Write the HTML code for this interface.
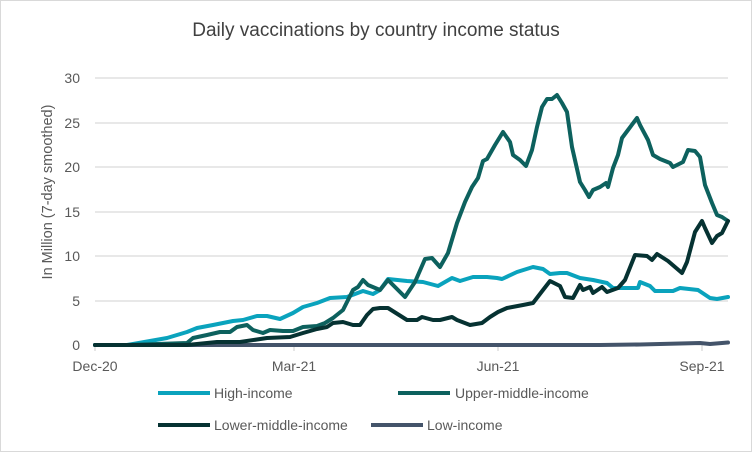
<!DOCTYPE html><html><head><style>body{margin:0;background:#fff}svg{display:block;font-family:"Liberation Sans",sans-serif}</style></head><body>
<svg width="752" height="452" viewBox="0 0 752 452">
<rect x="0.5" y="0.5" width="751" height="451" fill="#fff" stroke="#d9d9d9"/>
<text x="376" y="36" text-anchor="middle" font-size="19" fill="#404040">Daily vaccinations by country income status</text>
<g stroke="#d9d9d9" stroke-width="1.3">
<line x1="95" x2="728" y1="78" y2="78"/><line x1="95" x2="728" y1="123" y2="123"/><line x1="95" x2="728" y1="167" y2="167"/><line x1="95" x2="728" y1="212" y2="212"/><line x1="95" x2="728" y1="256" y2="256"/><line x1="95" x2="728" y1="301" y2="301"/>
<line x1="95" x2="95" y1="345" y2="351"/><line x1="294" x2="294" y1="345" y2="351"/><line x1="498" x2="498" y1="345" y2="351"/><line x1="702" x2="702" y1="345" y2="351"/>
</g>
<g font-size="14" fill="#595959" text-anchor="end">
<text x="80" y="83">30</text><text x="80" y="128">25</text><text x="80" y="172">20</text><text x="80" y="217">15</text><text x="80" y="261">10</text><text x="80" y="306">5</text><text x="80" y="350">0</text>
</g>
<g font-size="14" fill="#595959" text-anchor="middle">
<text x="95" y="371">Dec-20</text><text x="294" y="371">Mar-21</text><text x="498" y="371">Jun-21</text><text x="702" y="371">Sep-21</text>
</g>
<text transform="translate(52,192) rotate(-90)" text-anchor="middle" font-size="14.5" fill="#595959">In Million (7-day smoothed)</text>
<g fill="none" stroke-width="4" stroke-linejoin="round" stroke-linecap="round">
<polyline stroke="#44546a" points="95,345 600,345 640,344.5 680,343.5 700,343 710,344 728,342.5"/>
<polyline stroke="#0aa3bd" points="95,345 127,345 167,338 187,332 197,328 213,325 233,321 243,320 257,316 267,316 280,319 293,313 303,307 317,303 330,298 347,297 363,291 373,294 380,290 388,279 407,281 423,282 438,286 452,278 460,281 473,277 487,277 497,278 502,279 517,272 533,267 543,269 550,274 560,273 567,273 580,278 593,280 607,283 613,288 623,288 638,288 640,282 650,286 655,291 673,291 680,288 698,290 710,298 717,299 728,297"/>
<polyline stroke="#0d615e" points="95,345 127,345 187,343 193,338 207,335 220,332 230,332 237,327 247,325 253,330 263,333 270,330 283,331 293,331 303,327 317,326 325,323 333,318 343,310 348,300 353,290 358,287 363,280 368,285 380,290 388,280 395,287 405,297 415,282 425,259 432,258 440,267 448,253 457,223 465,202 472,187 478,178 483,161 487,159 495,145 503,132 510,142 513,155 520,160 526,166 532,150 537,127 542,107 547,99 552,99 557,95 562,103 567,112 572,147 580,182 585,190 589,197 593,190 600,187 606,183 608,187 613,168 618,155 622,138 628,130 637,118 640,125 648,140 653,155 660,159 670,163 673,167 683,162 688,150 695,151 700,157 705,185 712,203 717,215 722,217 728,221"/>
<polyline stroke="#063232" points="95,345 187,345 217,342 240,342 267,338 290,337 303,333 317,329 327,327 333,323 343,322 353,325 360,325 367,315 373,309 380,308 388,308 407,320 417,320 422,317 433,320 440,320 452,317 457,320 470,325 482,323 490,317 498,312 507,308 523,305 533,303 543,290 550,281 560,286 565,297 573,298 580,285 583,290 590,287 593,293 602,287 607,292 618,288 625,280 635,255 647,256 652,260 657,254 668,261 682,273 687,262 695,232 702,221 705,228 712,243 717,236 722,233 728,221"/>
</g>
<g stroke-width="4">
<line x1="158" x2="210" y1="393" y2="393" stroke="#0aa3bd"/>
<line x1="398" x2="450" y1="393" y2="393" stroke="#0d615e"/>
<line x1="158" x2="210" y1="425" y2="425" stroke="#063232"/>
<line x1="371" x2="423" y1="425" y2="425" stroke="#44546a"/>
</g>
<g font-size="14" fill="#595959">
<text x="214" y="398">High-income</text><text x="455" y="398">Upper-middle-income</text>
<text x="214" y="430">Lower-middle-income</text><text x="427" y="430">Low-income</text>
</g>
</svg></body></html>
